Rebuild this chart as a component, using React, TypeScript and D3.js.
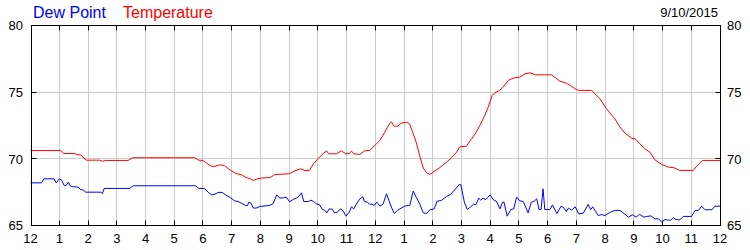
import React, { useEffect, useRef } from "react";
import * as d3 from "d3";

const hourLabels = ["12","1","2","3","4","5","6","7","8","9","10","11","12","1","2","3","4","5","6","7","8","9","10","11","12"];
const yTicks = [65, 70, 75, 80];
const dateLabel = "9/10/2015";
const seriesNames = ["Dew Point", "Temperature"];

// [hour of day, °F]
const temperature: [number, number][] = [
  [0,70.62],[1.05,70.62],[1.16,70.4],[1.53,70.4],[1.65,70.3],[1.75,70.3],[1.85,70.05],[1.95,69.9],[2.4,69.9],[2.5,69.82],[2.6,69.88],[3.4,69.88],[3.55,70.08],[5.72,70.08],[5.85,69.9],[6.0,69.88],[6.15,69.65],[6.3,69.43],[6.45,69.45],[6.58,69.55],[6.75,69.5],[6.95,69.15],[7.15,68.9],[7.35,68.8],[7.5,68.6],[7.65,68.5],[7.75,68.38],[7.9,68.5],[8.0,68.55],[8.35,68.6],[8.5,68.82],[9.0,68.88],[9.2,69.1],[9.4,69.25],[9.55,69.12],[9.7,69.12],[9.85,69.63],[10.0,70.0],[10.18,70.38],[10.3,70.6],[10.38,70.38],[10.65,70.38],[10.82,70.6],[10.97,70.38],[11.1,70.4],[11.17,70.58],[11.25,70.38],[11.46,70.33],[11.63,70.6],[11.8,70.63],[11.98,71.0],[12.16,71.38],[12.33,72.0],[12.5,72.65],[12.56,72.78],[12.65,72.45],[12.78,72.45],[12.9,72.68],[13.09,72.75],[13.2,72.6],[13.3,72.0],[13.43,71.2],[13.55,70.2],[13.67,69.3],[13.79,68.95],[13.9,68.83],[14.05,69.05],[14.25,69.35],[14.48,69.75],[14.65,70.08],[14.83,70.5],[14.94,70.9],[15.17,70.95],[15.35,71.5],[15.5,71.95],[15.64,72.5],[15.81,73.25],[15.93,73.88],[16.07,74.75],[16.16,74.95],[16.33,75.13],[16.45,75.38],[16.63,75.88],[16.8,76.05],[17.03,76.13],[17.21,76.38],[17.38,76.45],[17.58,76.3],[18.14,76.3],[18.42,75.83],[18.65,75.68],[18.83,75.43],[19.0,75.2],[19.1,75.13],[19.53,75.13],[19.82,74.5],[20.05,73.75],[20.34,73.0],[20.52,72.38],[20.69,71.93],[20.92,71.55],[21.05,71.5],[21.21,71.13],[21.38,70.75],[21.56,70.5],[21.73,69.93],[21.97,69.58],[22.2,69.38],[22.4,69.33],[22.6,69.13],[23.07,69.13],[23.18,69.43],[23.39,69.88],[24,69.88]
];

const dewPoint: [number, number][] = [
  [0,68.2],[0.38,68.2],[0.46,68.5],[0.82,68.5],[0.89,68.2],[1.0,68.5],[1.08,68.4],[1.17,68.0],[1.24,68.0],[1.31,68.25],[1.39,67.95],[1.5,67.9],[1.65,67.88],[1.75,67.68],[1.82,67.68],[1.92,67.5],[2.45,67.5],[2.5,67.38],[2.56,67.78],[3.45,67.78],[3.57,67.98],[5.75,67.98],[5.85,67.78],[6.05,67.78],[6.18,67.5],[6.3,67.3],[6.42,67.35],[6.53,67.48],[6.67,67.48],[6.8,67.28],[6.95,67.1],[7.1,66.85],[7.22,66.8],[7.36,66.65],[7.48,66.5],[7.55,66.5],[7.6,66.75],[7.66,66.7],[7.76,66.3],[7.88,66.32],[7.98,66.43],[8.32,66.5],[8.44,66.63],[8.57,67.3],[8.67,67.05],[8.8,67.08],[8.9,67.13],[9.02,66.78],[9.14,66.95],[9.25,67.05],[9.35,67.2],[9.43,67.45],[9.51,66.8],[9.68,66.8],[9.76,66.9],[9.85,66.8],[9.95,66.63],[10.06,66.55],[10.16,66.2],[10.24,66.15],[10.31,65.95],[10.4,66.25],[10.5,66.22],[10.58,65.95],[10.68,66.0],[10.79,66.25],[10.88,66.1],[10.98,65.7],[11.1,66.02],[11.17,66.4],[11.25,66.25],[11.34,66.6],[11.46,67.0],[11.57,67.15],[11.62,66.8],[11.72,66.75],[11.8,66.6],[11.88,66.6],[11.96,66.5],[12.05,66.75],[12.16,66.45],[12.27,66.6],[12.39,67.38],[12.47,66.9],[12.56,66.38],[12.66,65.9],[12.78,66.15],[12.9,66.3],[13.02,66.45],[13.15,66.5],[13.2,66.5],[13.32,67.58],[13.43,67.1],[13.55,66.6],[13.67,65.95],[13.79,65.9],[13.9,66.18],[14.05,66.25],[14.15,66.82],[14.3,66.88],[14.48,67.18],[14.6,67.3],[14.77,67.68],[14.92,68.08],[14.98,68.05],[15.1,66.75],[15.2,66.2],[15.32,66.4],[15.42,66.6],[15.5,66.55],[15.6,67.05],[15.67,66.9],[15.75,67.05],[15.85,66.95],[16.0,67.3],[16.1,66.95],[16.22,66.8],[16.34,66.25],[16.43,66.75],[16.48,66.75],[16.59,65.7],[16.72,66.2],[16.82,66.25],[16.92,67.13],[17.03,66.85],[17.15,66.8],[17.32,65.95],[17.43,66.75],[17.52,66.8],[17.62,67.0],[17.7,66.2],[17.77,66.2],[17.84,67.75],[17.9,66.2],[18.08,66.2],[18.17,66.55],[18.32,65.9],[18.47,66.45],[18.55,66.35],[18.65,66.05],[18.72,66.3],[18.84,66.15],[18.96,66.4],[19.08,65.88],[19.24,65.92],[19.41,66.58],[19.5,66.2],[19.57,66.4],[19.76,65.75],[19.88,65.82],[20.0,65.75],[20.18,66.0],[20.35,66.13],[20.52,66.13],[20.69,65.85],[20.81,65.63],[20.95,65.8],[21.08,65.63],[21.2,65.83],[21.35,65.63],[21.45,65.68],[21.6,65.72],[21.74,65.5],[21.86,65.5],[21.97,65.25],[22.09,65.45],[22.2,65.4],[22.28,65.4],[22.37,65.58],[22.47,65.45],[22.6,65.42],[22.72,65.68],[23.01,65.68],[23.13,66.13],[23.25,66.13],[23.36,66.45],[23.48,66.18],[23.72,66.18],[23.82,66.45],[24,66.45]
];

const W = 750, H = 250;
const L = 31.5, R = 720.5, T = 25.5, B = 225.5;
const FONT = "'Liberation Sans', Arial, sans-serif";

export default function App() {
  const ref = useRef<SVGSVGElement>(null);
  useEffect(() => {
    const svg = d3.select(ref.current);
    svg.selectAll("*").remove();
    const x = d3.scaleLinear().domain([0, 24]).range([30.6, 720.0]);
    const y = d3.scaleLinear().domain([65, 80]).range([B, T]);
    const hours = d3.range(0, 25);
    const px = (h: number) => Math.floor(x(h)) + 0.5;
    const py = (v: number) => Math.round(y(v) - 0.5) + 0.5;

    // grid
    svg.append("g").selectAll("line").data(hours.slice(1, -1)).join("line")
      .attr("x1", px).attr("x2", px).attr("y1", T).attr("y2", B)
      .attr("stroke", "#cccccc").attr("stroke-width", 1);
    svg.append("g").selectAll("line").data(yTicks.slice(1, -1)).join("line")
      .attr("x1", L).attr("x2", R).attr("y1", py).attr("y2", py)
      .attr("stroke", "#cccccc").attr("stroke-width", 1);

    // ticks
    const tk = svg.append("g").attr("stroke", "#000").attr("stroke-width", 1);
    hours.slice(1, -1).forEach((h) => {
      tk.append("line").attr("x1", px(h)).attr("x2", px(h)).attr("y1", B).attr("y2", B - 5);
      tk.append("line").attr("x1", px(h)).attr("x2", px(h)).attr("y1", T).attr("y2", T + 5);
    });
    yTicks.slice(1, -1).forEach((v) => {
      tk.append("line").attr("x1", L).attr("x2", L + 5).attr("y1", py(v)).attr("y2", py(v));
      tk.append("line").attr("x1", R).attr("x2", R - 5).attr("y1", py(v)).attr("y2", py(v));
    });

    // series
    const line = d3.line<[number, number]>().x((d) => x(d[0])).y((d) => y(d[1]));
    svg.append("path").datum(temperature).attr("d", line).attr("fill", "none")
      .attr("stroke", "#ff0000").attr("stroke-width", 1);
    svg.append("path").datum(dewPoint).attr("d", line).attr("fill", "none")
      .attr("stroke", "#0000ff").attr("stroke-width", 1);

    // frame
    svg.append("rect").attr("x", L).attr("y", T).attr("width", R - L).attr("height", B - T)
      .attr("fill", "none").attr("stroke", "#000").attr("stroke-width", 1);

    // labels
    const lab = svg.append("g").attr("font-family", FONT).attr("font-size", 13).attr("fill", "#000");
    hours.forEach((h) => {
      lab.append("text").attr("x", x(h)).attr("y", 243).attr("text-anchor", "middle").text(hourLabels[h]);
    });
    yTicks.forEach((v) => {
      lab.append("text").attr("x", 23).attr("y", y(v) + 4.7).attr("text-anchor", "end").text(String(v));
      lab.append("text").attr("x", 727).attr("y", y(v) + 4.7).attr("text-anchor", "start").text(String(v));
    });
    lab.append("text").attr("x", 718).attr("y", 17).attr("text-anchor", "end").text(dateLabel);

    const leg = svg.append("g").attr("font-family", FONT).attr("font-size", 16);
    leg.append("text").attr("x", 33).attr("y", 18).attr("fill", "#0000ff").text(seriesNames[0]);
    leg.append("text").attr("x", 123).attr("y", 18).attr("fill", "#ff0000").text(seriesNames[1]);
  }, []);
  return (
    <svg ref={ref} width={W} height={H}
      style={{ position: "absolute", left: 0, top: 0, background: "#fff" }} />
  );
}
